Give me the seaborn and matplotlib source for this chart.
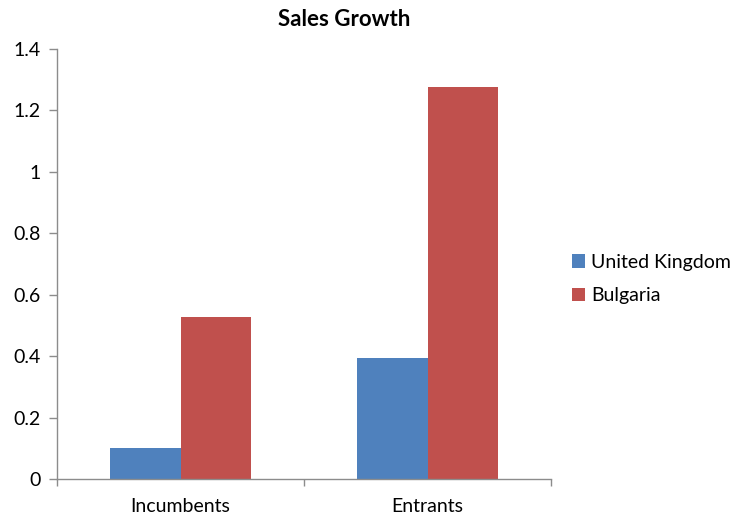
import matplotlib
matplotlib.use("Agg")
import matplotlib.pyplot as plt
import seaborn as sns
import pandas as pd

categories = ["Incumbents", "Entrants"]
countries = ["United Kingdom", "Bulgaria"]
uk_values = [0.10, 0.393]
bg_values = [0.528, 1.275]
y_ticks = [0, 0.2, 0.4, 0.6, 0.8, 1.0, 1.2, 1.4]
y_tick_labels = ["0", "0.2", "0.4", "0.6", "0.8", "1", "1.2", "1.4"]
colors = ["#4F81BD", "#C0504D"]

df = pd.DataFrame({
    "Group": categories * 2,
    "Country": [countries[0]] * 2 + [countries[1]] * 2,
    "Growth": uk_values + bg_values,
})

sns.set_theme(style="white")
plt.rcParams["font.family"] = ["Lato", "DejaVu Sans"]
plt.rcParams["text.color"] = "#000000"

fig = plt.figure(figsize=(7.34, 5.16), dpi=100)
ax = fig.add_axes([57 / 734, 37 / 516, 494 / 734, 430 / 516])

sns.barplot(data=df, x="Group", y="Growth", hue="Country", order=categories,
            hue_order=countries, palette=colors, width=0.572, gap=0,
            saturation=1, linewidth=0, ax=ax)

ax.set_xlim(-0.5, 1.5)
ax.set_ylim(0, 1.4)
ax.set_yticks(y_ticks)
ax.set_yticklabels(y_tick_labels)
ax.set_xlabel("")
ax.set_ylabel("")

axis_col = "#8C8C8C"
for side in ["top", "right"]:
    ax.spines[side].set_visible(False)
for side in ["left", "bottom"]:
    ax.spines[side].set_color(axis_col)
    ax.spines[side].set_linewidth(1.0)

# category separators as tick marks on the x axis
ax.set_xticks([-0.5, 0.5, 1.5], minor=True)
ax.tick_params(axis="x", which="minor", bottom=True, length=5, color=axis_col, width=1)
ax.tick_params(axis="x", which="major", bottom=False, length=0, pad=14,
               labelsize=14, labelcolor="#000000")
ax.tick_params(axis="y", left=True, length=5.5, color=axis_col, width=1, pad=6,
               labelsize=14, labelcolor="#000000")

fig.text(0.469, 0.963, "Sales Growth", ha="center", va="center",
         fontsize=16, fontweight="bold", color="#000000")

leg = ax.legend(loc="center left", bbox_to_anchor=(562 / 734, 1 - 279 / 516),
                bbox_transform=fig.transFigure, frameon=False, fontsize=14,
                borderpad=0, handlelength=0.7, handleheight=0.7, handletextpad=0.3,
                labelspacing=0.85, title=None)
for t in leg.get_texts():
    t.set_color("#000000")

fig.savefig("out.png", dpi=100)
